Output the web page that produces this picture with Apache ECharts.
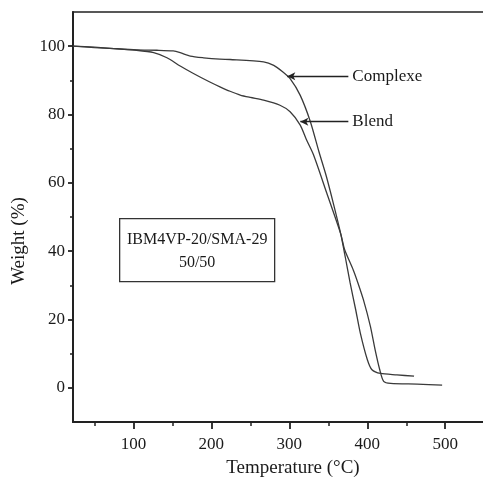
<!DOCTYPE html>
<html>
<head>
<meta charset="utf-8">
<script src="https://cdn.jsdelivr.net/npm/echarts@6/dist/echarts.min.js"></script>
<style>html,body{margin:0;padding:0;background:#fff}#c{width:483px;height:490px}</style>
</head>
<body>
<div id="c"></div>
<script>
// Data (Temperature °C, Weight %)
var complexeT = [22.5, 50, 75, 104, 130, 151, 160, 173, 190, 211, 224, 267, 280, 291, 301, 314, 327, 338, 347, 357, 366, 372, 378, 385, 391, 400, 406, 417, 438, 460];
var complexeW = [100, 99.7, 99.3, 98.9, 98.8, 98.6, 98.1, 97.1, 96.6, 96.2, 96.1, 95.4, 94.4, 92.6, 90.5, 85.6, 77.9, 69.1, 62.3, 53.5, 45, 38, 30.7, 23, 16.1, 8.3, 5.3, 4.2, 3.8, 3.4];
var blendT = [22.5, 50, 75, 104, 126, 143, 160, 177, 198, 211, 224, 237, 250, 267, 288, 301, 314, 322, 331, 348, 366, 371, 382, 388, 395, 404, 410, 416, 421, 430, 464, 496];
var blendW = [100, 99.6, 99.3, 98.8, 98.1, 96.6, 94.2, 92, 89.5, 88.1, 86.8, 85.7, 85.0, 84.2, 82.7, 80.8, 76.9, 72.6, 68.2, 57, 45, 40.4, 34.5, 30.7, 25.8, 18, 11.2, 5.3, 1.9, 1.3, 1.1, 0.8];
var xMajorTicks = [100, 200, 300, 400, 500];
var yMajorTicks = [0, 20, 40, 60, 80, 100];
var annotationNames = ['Complexe', 'Blend'];
var annotationFrom = [[375.7, 91.2], [375.7, 77.9]];
var annotationTo = [[297.4, 91.2], [314.1, 77.9]];
var boxLines = ['IBM4VP-20/SMA-29', '50/50'];

function pairs(xs, ys) { return xs.map(function (x, i) { return [x, ys[i]]; }); }

var FONT = '"Liberation Serif", "Times New Roman", serif';
var INK = '#1a1a1a';
var chart = echarts.init(document.getElementById('c'), null, {renderer: 'canvas'});

function arrowLine(i) {
  return [{coord: annotationFrom[i], label: {formatter: annotationNames[i]}}, {coord: annotationTo[i]}];
}

var option = {
  animation: false,
  backgroundColor: '#fff',
  grid: {left: 73, top: 12, right: -2, bottom: 68, show: true, borderColor: '#222', borderWidth: 1.5, containLabel: false, outerBoundsMode: 'none'},
  xAxis: {
    type: 'value', min: 22.5, max: 551, splitNumber: 5, minInterval: 100, maxInterval: 100,
    name: 'Temperature (°C)', nameLocation: 'middle', nameGap: 37,
    nameTextStyle: {fontFamily: FONT, fontSize: 19, color: INK, padding: [0, 0, 0, 28]},
    axisLine: {show: true, onZero: false, lineStyle: {color: '#222', width: 2}},
    axisTick: {show: true, length: 7, customValues: xMajorTicks, lineStyle: {color: '#222', width: 1.8}},
    minorTick: {show: true, splitNumber: 2, length: 4, lineStyle: {color: '#222', width: 1.5}},
    axisLabel: {show: true, customValues: xMajorTicks, margin: 14, fontFamily: FONT, fontSize: 17, color: INK},
    splitLine: {show: false}, minorSplitLine: {show: false}
  },
  yAxis: {
    type: 'value', min: -10, max: 110, splitNumber: 6, minInterval: 20, maxInterval: 20,
    name: 'Weight (%)', nameLocation: 'middle', nameGap: 43,
    nameTextStyle: {fontFamily: FONT, fontSize: 19, color: INK, padding: [0, 48, 0, 0]},
    axisLine: {show: true, onZero: false, lineStyle: {color: '#222', width: 2}},
    axisTick: {show: true, length: 5, customValues: yMajorTicks, lineStyle: {color: '#222', width: 1.8}},
    minorTick: {show: true, splitNumber: 2, length: 3, lineStyle: {color: '#222', width: 1.5}},
    axisLabel: {show: true, customValues: yMajorTicks, margin: 8, fontFamily: FONT, fontSize: 17, color: INK},
    splitLine: {show: false}, minorSplitLine: {show: false}
  },
  series: [{
    name: 'Complexe', type: 'line',
    data: pairs(complexeT, complexeW), showSymbol: false, smooth: 0.25,
    lineStyle: {color: '#3a3a3a', width: 1.3},
    markLine: {
      silent: true, symbol: ['none', 'arrow'], symbolSize: [6, 8], animation: false,
      lineStyle: {color: '#222', width: 1.3, type: 'solid'},
      label: {show: true, position: 'start', distance: 4, fontFamily: FONT, fontSize: 17, color: INK},
      emphasis: {disabled: true},
      data: [arrowLine(0), arrowLine(1)]
    }
  }, {
    name: 'Blend', type: 'line',
    data: pairs(blendT, blendW), showSymbol: false, smooth: 0.25,
    lineStyle: {color: '#3a3a3a', width: 1.3}
  }],
  graphic: [{
    type: 'group', left: 119, top: 218,
    children: [{
      type: 'rect', shape: {x: 0, y: 0, width: 155, height: 63},
      style: {fill: '#fff', stroke: '#333', lineWidth: 1.3}
    }, {
      type: 'text', x: 77.5, y: 21,
      style: {text: boxLines[0], fontFamily: FONT, fontSize: 16, fill: INK, textAlign: 'center', textVerticalAlign: 'middle'}
    }, {
      type: 'text', x: 77.5, y: 44,
      style: {text: boxLines[1], fontFamily: FONT, fontSize: 16, fill: INK, textAlign: 'center', textVerticalAlign: 'middle'}
    }]
  }]
};
chart.setOption(option);
</script>
</body>
</html>
